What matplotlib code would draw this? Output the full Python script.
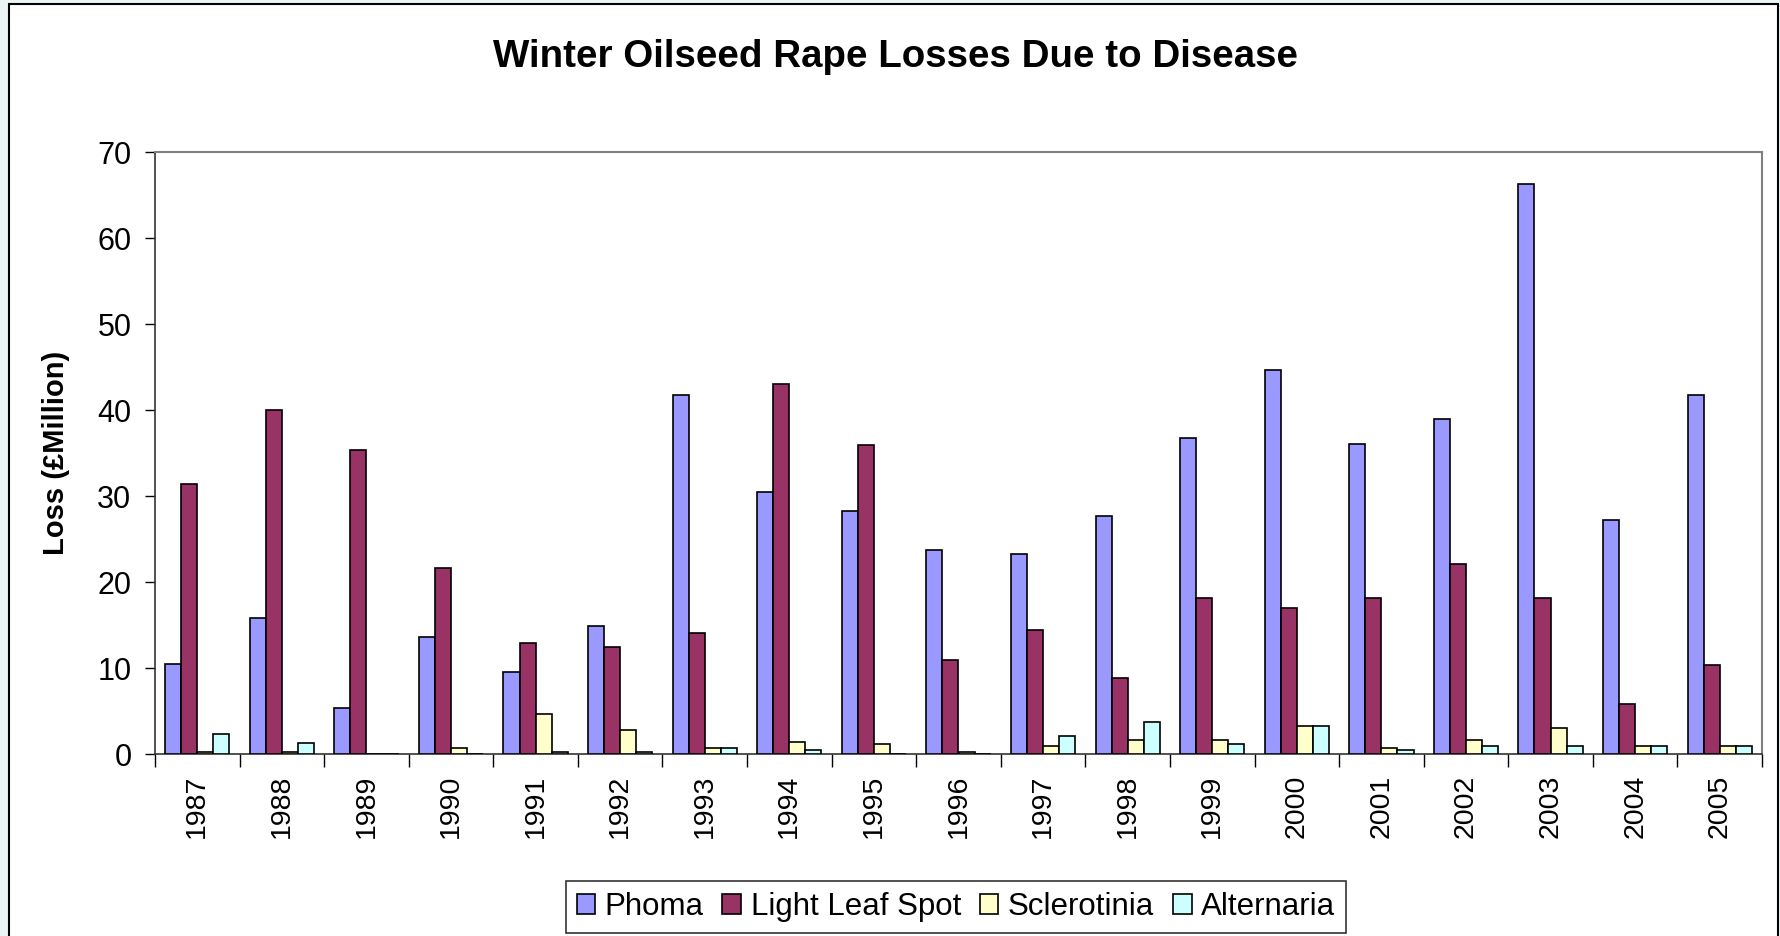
import numpy as np
import matplotlib
matplotlib.use("Agg")
import matplotlib.pyplot as plt
from matplotlib.patches import Rectangle

plt.rcParams['font.family'] = ['Liberation Sans', 'DejaVu Sans']

years = ["1987", "1988", "1989", "1990", "1991", "1992", "1993", "1994", "1995", "1996",
         "1997", "1998", "1999", "2000", "2001", "2002", "2003", "2004", "2005"]
phoma = [10.5, 15.8, 5.4, 13.6, 9.5, 14.9, 41.7, 30.5, 28.3, 23.7,
         23.2, 27.7, 36.8, 44.7, 36.0, 38.9, 66.3, 27.2, 41.8]
light_leaf_spot = [31.4, 40.0, 35.3, 21.6, 12.9, 12.4, 14.1, 43.0, 35.9, 10.9,
                   14.4, 8.8, 18.1, 17.0, 18.1, 22.1, 18.1, 5.8, 10.4]
sclerotinia = [0.2, 0.2, 0.0, 0.7, 4.6, 2.8, 0.7, 1.4, 1.2, 0.2,
               0.9, 1.6, 1.6, 3.2, 0.7, 1.6, 3.0, 0.9, 0.9]
alternaria = [2.3, 1.3, 0.0, 0.0, 0.2, 0.2, 0.7, 0.5, 0.0, 0.0,
              2.1, 3.7, 1.2, 3.2, 0.5, 0.9, 0.9, 0.9, 0.9]

series = [("Phoma", phoma, "#9999FF"),
          ("Light Leaf Spot", light_leaf_spot, "#993366"),
          ("Sclerotinia", sclerotinia, "#FFFFCC"),
          ("Alternaria", alternaria, "#CCFFFF")]

fig = plt.figure(figsize=(17.8, 9.36), dpi=100)
fig.patch.set_facecolor("#eaf4f5")
# white chart area with black border
fig.patches.append(Rectangle((9 / 1780, -0.01), 1770 / 1780 - 0.0005, 1 - 4 / 936 + 0.01,
                             transform=fig.transFigure, facecolor="white",
                             edgecolor="black", linewidth=1.5, zorder=-1))

ax = fig.add_axes([155 / 1780, 1 - 754 / 936, (1762 - 155) / 1780, (754 - 152) / 936])
ax.set_facecolor("white")

x = np.arange(len(years))
w = 0.19
for k, (name, vals, col) in enumerate(series):
    ax.bar(x + (k - 1.5) * w, vals, width=w, color=col, edgecolor="black",
           linewidth=1.2, label=name, zorder=3)

ax.set_xlim(-0.5, len(years) - 0.5)
ax.set_ylim(0, 70)
ax.set_yticks(range(0, 71, 10))
ax.tick_params(axis="y", direction="out", length=7, width=1, labelsize=22, pad=10)

ax.set_xticks(x)
ax.set_xticklabels(years, rotation=90, fontsize=20.5)
ax.set_xticks(np.arange(len(years) + 1) - 0.5, minor=True)
ax.tick_params(axis="x", which="major", length=0, pad=15)
ax.tick_params(axis="x", which="minor", direction="out", length=9, width=1)

for s in ["top", "right"]:
    ax.spines[s].set_color("#808080")
    ax.spines[s].set_linewidth(1.5)
for s in ["left", "bottom"]:
    ax.spines[s].set_color("#333333")
    ax.spines[s].set_linewidth(1.2)

ax.set_ylabel("Loss (£Million)", fontsize=21, fontweight="bold")
ax.yaxis.set_label_coords(-0.053, 0.5)

fig.text(0.503, 1 - 57 / 936, "Winter Oilseed Rape Losses Due to Disease",
         ha="center", va="center", fontsize=27.7, fontweight="bold")

leg = fig.legend(loc="center", bbox_to_anchor=(0.537, 0.031), ncol=4, fontsize=22.5,
                 frameon=True, fancybox=False, edgecolor="black", handlelength=0.6,
                 handleheight=0.6, handletextpad=0.3, columnspacing=0.6,
                 borderpad=0.35, borderaxespad=0)
leg.get_frame().set_linewidth(1.2)

fig.savefig("out.png", dpi=100, facecolor=fig.get_facecolor())
